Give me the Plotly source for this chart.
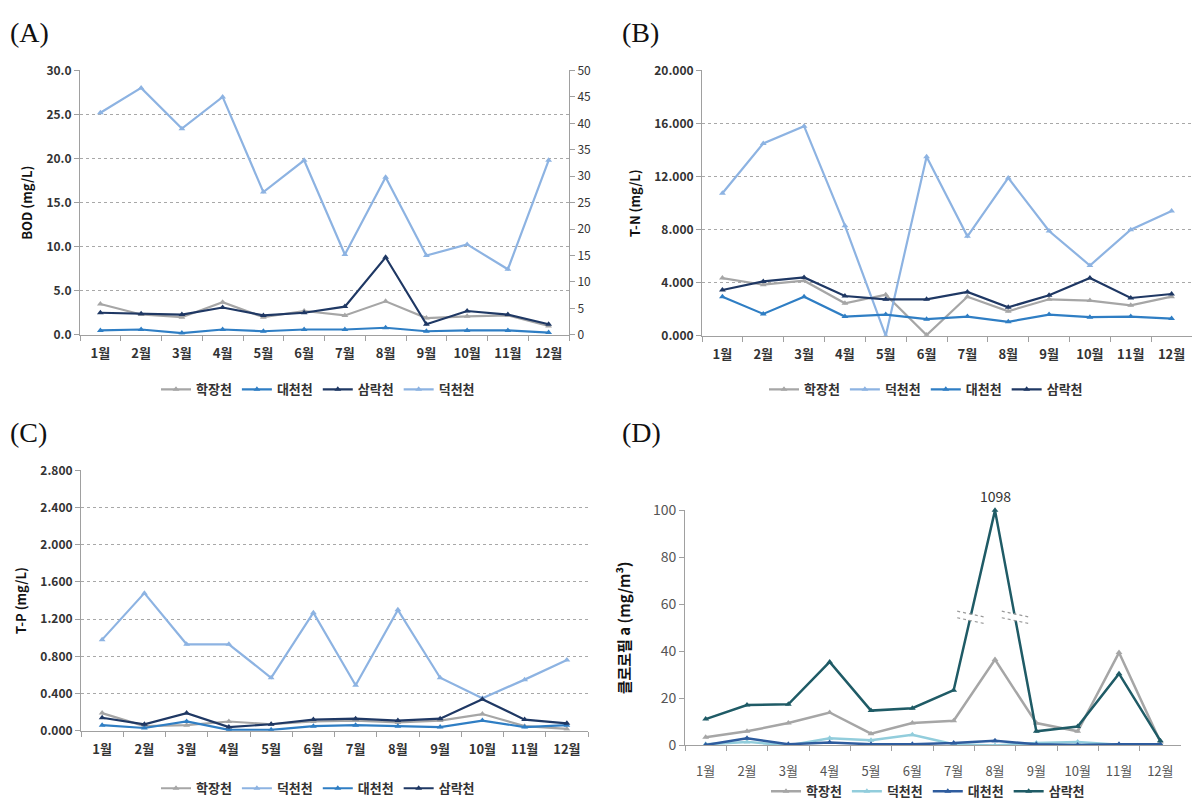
import plotly.graph_objects as go

# ---------------- data ----------------
months = ["1월", "2월", "3월", "4월", "5월", "6월", "7월", "8월", "9월", "10월", "11월", "12월"]

# (A) BOD (mg/L) -- 덕천천 on the right axis
bod_hakjang = [3.5, 2.3, 2.0, 3.7, 2.0, 2.7, 2.2, 3.8, 1.9, 2.1, 2.2, 1.0]
bod_daecheon = [0.5, 0.6, 0.2, 0.6, 0.4, 0.6, 0.6, 0.8, 0.4, 0.5, 0.5, 0.25]
bod_samrak = [2.5, 2.4, 2.3, 3.1, 2.2, 2.5, 3.2, 8.8, 1.2, 2.7, 2.3, 1.2]
bod_deokcheon = [42.0, 46.7, 39.0, 45.0, 27.0, 33.0, 15.2, 29.8, 15.0, 17.1, 12.4, 33.0]

# (B) T-N (mg/L)
tn_hakjang = [4.35, 3.85, 4.15, 2.45, 3.1, 0.05, 2.95, 1.85, 2.75, 2.65, 2.3, 2.95]
tn_deokcheon = [10.75, 14.5, 15.8, 8.3, 0.0, 13.5, 7.5, 11.9, 7.9, 5.3, 8.0, 9.4]
tn_daecheon = [2.95, 1.65, 2.95, 1.45, 1.6, 1.25, 1.45, 1.05, 1.6, 1.4, 1.45, 1.3]
tn_samrak = [3.45, 4.1, 4.4, 3.0, 2.75, 2.75, 3.3, 2.15, 3.05, 4.35, 2.85, 3.15]

# (C) T-P (mg/L)
tp_hakjang = [0.19, 0.05, 0.06, 0.10, 0.07, 0.10, 0.11, 0.09, 0.11, 0.18, 0.05, 0.02]
tp_deokcheon = [0.98, 1.48, 0.93, 0.93, 0.57, 1.27, 0.49, 1.30, 0.57, 0.35, 0.55, 0.76]
tp_daecheon = [0.06, 0.03, 0.10, 0.01, 0.01, 0.05, 0.06, 0.05, 0.04, 0.11, 0.04, 0.06]
tp_samrak = [0.14, 0.07, 0.19, 0.04, 0.07, 0.12, 0.13, 0.11, 0.13, 0.34, 0.12, 0.08]

# (D) Chlorophyll a (mg/m3)
chl_hakjang = [3.5, 6.0, 9.5, 14.0, 5.0, 9.5, 10.5, 36.5, 9.5, 6.0, 39.5, 1.5]
chl_deokcheon = [0.5, 1.5, 0.0, 3.0, 2.2, 4.5, 0.5, 0.0, 1.0, 1.5, 0.3, 0.5]
chl_daecheon = [0.2, 3.0, 0.5, 1.2, 0.5, 0.5, 1.0, 2.0, 0.5, 0.2, 0.5, 0.5]
chl_samrak = [11.2, 17.2, 17.5, 35.5, 14.8, 15.8, 23.5, 1098, 6.0, 8.0, 30.5, 2.0]

# ---------------- styles ----------------
C_HAK = "#A6A6A6"
C_DEOK = "#8DB3E2"
C_DAE = "#2F7EC4"
C_SAM = "#1F3864"
D_HAK = "#A6A6A6"
D_DEOK = "#92CDDC"
D_DAE = "#2E5C9E"
D_SAM = "#1F5B66"

FONT = "Noto Sans CJK KR"
AXC = "#A0A0A0"

fig = go.Figure()


def add_line(name, vals, color, xa, ya, legend, width=2.2, size=6, clip=True):
    fig.add_trace(go.Scatter(
        x=months, y=vals, name=name, mode="lines+markers",
        line=dict(color=color, width=width),
        marker=dict(symbol="triangle-up", size=size, color=color),
        xaxis=xa, yaxis=ya, legend=legend, cliponaxis=clip,
    ))


# A
add_line("학장천", bod_hakjang, C_HAK, "x", "y", "legend")
add_line("대천천", bod_daecheon, C_DAE, "x", "y", "legend")
add_line("삼락천", bod_samrak, C_SAM, "x", "y", "legend")
add_line("덕천천", bod_deokcheon, C_DEOK, "x", "y2", "legend")
# B
add_line("학장천", tn_hakjang, C_HAK, "x2", "y3", "legend2")
add_line("덕천천", tn_deokcheon, C_DEOK, "x2", "y3", "legend2")
add_line("대천천", tn_daecheon, C_DAE, "x2", "y3", "legend2")
add_line("삼락천", tn_samrak, C_SAM, "x2", "y3", "legend2")
# C
add_line("학장천", tp_hakjang, C_HAK, "x3", "y4", "legend3")
add_line("덕천천", tp_deokcheon, C_DEOK, "x3", "y4", "legend3")
add_line("대천천", tp_daecheon, C_DAE, "x3", "y4", "legend3")
add_line("삼락천", tp_samrak, C_SAM, "x3", "y4", "legend3")
# D (values above the axis maximum are drawn at the top, with a break mark)
D_MAX = 100
chl_samrak_shown = [min(v, D_MAX) for v in chl_samrak]
add_line("학장천", chl_hakjang, D_HAK, "x4", "y5", "legend4", width=2.5)
add_line("덕천천", chl_deokcheon, D_DEOK, "x4", "y5", "legend4", width=2.5)
add_line("대천천", chl_daecheon, D_DAE, "x4", "y5", "legend4", width=2.5)
add_line("삼락천", chl_samrak_shown, D_SAM, "x4", "y5", "legend4", width=2.5, clip=False)

tickfont = dict(family=FONT, size=12, color="#333", weight="bold")


def xaxis(domain, anchor):
    return dict(domain=domain, anchor=anchor, type="category", range=[-0.5, 11.5],
                tickson="boundaries", ticks="outside", ticklen=5, tickcolor=AXC,
                showline=True, linecolor=AXC, linewidth=1, showgrid=False,
                tickfont=dict(family=FONT, size=13, color="#333", weight="bold"),
                ticklabelstandoff=7)


def yaxis(domain, anchor, rng, dtick, fmt, grid=True, title="", tsize=13):
    return dict(domain=domain, anchor=anchor, range=rng, dtick=dtick, tickformat=fmt,
                showgrid=grid, gridcolor="#A8A8A8", griddash="dot", gridwidth=1,
                showline=True, linecolor=AXC, linewidth=1, ticks="outside", ticklen=5,
                tickcolor=AXC, zeroline=False, tickfont=tickfont,
                title=dict(text=title, font=dict(family=FONT, size=tsize, color="#111", weight="bold"),
                           standoff=10))


W, H = 1192, 810


def px(a, b):
    return [a / W, b / W]


def py(top, bottom):
    return [1 - bottom / H, 1 - top / H]


layout = dict(
    width=W, height=H, autosize=False, margin=dict(l=0, r=0, t=0, b=0),
    paper_bgcolor="white", plot_bgcolor="white", font=dict(family=FONT),
    xaxis=xaxis(px(80, 569), "y"),
    yaxis=yaxis(py(61, 332), "x", [0, 30], 5, ".1f", title="BOD (mg/L)"),
    yaxis2=dict(overlaying="y", side="right", anchor="x", range=[0, 50], dtick=5,
                showgrid=False, showline=True, linecolor=AXC, ticks="outside", ticklen=5,
                tickcolor=AXC, zeroline=False,
                tickfont=dict(family=FONT, size=12, color="#333")),
    xaxis2=xaxis(px(702, 1192), "y3"),
    yaxis3=yaxis(py(61, 333), "x2", [0, 20], 4, ".3f", title="T-N (mg/L)"),
    xaxis3=xaxis(px(81, 588), "y4"),
    yaxis4=yaxis(py(471, 738), "x3", [0, 2.8], 0.4, ".3f", title="T-P (mg/L)"),
    xaxis4=xaxis(px(685, 1181), "y5"),
    yaxis5=yaxis(py(512, 753), "x4", [0, 100], 20, "d", grid=False,
                 title="클로로필 a (mg/m³)", tsize=15),
)
layout["xaxis4"]["tickfont"] = dict(family=FONT, size=13, color="#555")
layout["xaxis4"]["ticklabelstandoff"] = 14
layout["yaxis5"]["tickfont"] = dict(family=FONT, size=14, color="#555")
layout["yaxis5"]["title"]["standoff"] = 18

legfont = dict(family=FONT, size=13, color="#333", weight="bold")
for key, (cx, cy) in {"legend": (318, 388), "legend2": (926, 388),
                      "legend3": (318, 797), "legend4": (928, 800)}.items():
    layout[key] = dict(orientation="h", x=cx / W, y=1 - cy / H, xanchor="center",
                       yanchor="middle", font=legfont, itemwidth=30,
                       bgcolor="rgba(0,0,0,0)", tracegroupgap=0)

fig.update_layout(**layout)

# panel letters
for txt, x0, y0 in [("(A)", 8, 22), ("(B)", 620, 22), ("(C)", 8, 432), ("(D)", 620, 432)]:
    fig.add_annotation(text=txt, x=x0 / W, y=1 - y0 / H, xref="paper", yref="paper",
                       xanchor="left", yanchor="middle", showarrow=False,
                       font=dict(family="Liberation Serif", size=28, color="#111"))

# value label for the off-scale point
i_max = chl_samrak.index(max(chl_samrak))
fig.add_annotation(text=str(chl_samrak[i_max]), x=months[i_max], y=chl_samrak_shown[i_max],
                   xref="x4", yref="y5", yshift=14, showarrow=False,
                   font=dict(family=FONT, size=14, color="#333"))

# break marks on the segments next to the off-scale point
BREAK_Y = 54.5
for i0, i1 in [(i_max - 1, i_max), (i_max, i_max + 1)]:
    v0, v1 = chl_samrak_shown[i0], chl_samrak_shown[i1]
    xc = i0 + (BREAK_Y - v0) / (v1 - v0)
    dx, tilt = 0.32, 1.2
    fig.add_shape(type="line", xref="x4", yref="y5", x0=xc - dx, x1=xc + dx,
                  y0=BREAK_Y + tilt, y1=BREAK_Y - tilt, line=dict(color="white", width=6))
    for off in (1.4, -1.4):
        fig.add_shape(type="line", xref="x4", yref="y5", x0=xc - dx, x1=xc + dx,
                      y0=BREAK_Y + tilt + off, y1=BREAK_Y - tilt + off,
                      line=dict(color="#9A9A9A", width=1.2, dash="dot"))

fig.write_html("out.html")
